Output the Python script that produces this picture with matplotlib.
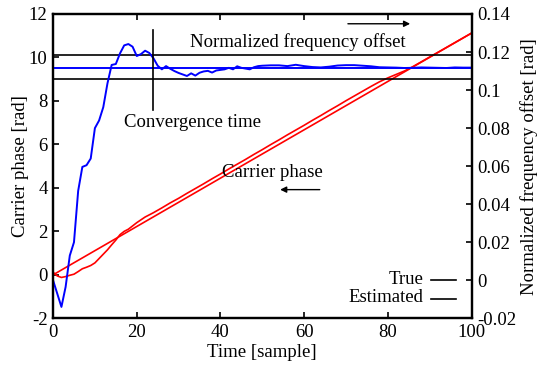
import matplotlib
matplotlib.use("Agg")
import matplotlib.pyplot as plt

plt.rcParams['font.family'] = ['Liberation Serif', 'DejaVu Serif']
plt.rcParams['mathtext.fontset'] = 'stix'
plt.rcParams['axes.unicode_minus'] = False

# ---- data ----
freq_n = [0, 1, 2, 3, 4, 5, 6, 7, 8, 9, 10, 11, 12, 13, 14, 15, 16, 17, 18, 19,
          20, 21, 22, 23, 24, 25, 26, 27, 28, 29, 30, 31, 32, 33, 34, 35, 36, 37, 38, 39,
          40, 41, 42, 43, 44, 45, 46, 47, 48, 49, 50, 52, 54, 56, 58, 60, 62, 64, 66, 68,
          70, 72, 74, 76, 78, 80, 82, 84, 86, 88, 90, 92, 94, 96, 98, 100]
freq_est = [0.0, -0.007, -0.014, -0.0035, 0.013, 0.020, 0.047, 0.0596, 0.0605, 0.064, 0.080,
            0.084, 0.091, 0.1035, 0.1132, 0.1137, 0.1193, 0.1235, 0.1242, 0.1228,
            0.1179, 0.1189, 0.1207, 0.1195, 0.1167, 0.1128, 0.1109, 0.1126, 0.1112, 0.1100,
            0.1090, 0.1082, 0.1074, 0.1088, 0.1076, 0.1091, 0.1098, 0.1101, 0.1092, 0.1103,
            0.1106, 0.1109, 0.1117, 0.1109, 0.1125, 0.1117, 0.1113, 0.1109, 0.1120, 0.1126,
            0.1128, 0.1130, 0.1130, 0.1126, 0.1133, 0.1126, 0.1121, 0.1119, 0.1123, 0.1129,
            0.1131, 0.1131, 0.1128, 0.1125, 0.1120, 0.1119, 0.1118, 0.1116, 0.1117, 0.1119,
            0.1118, 0.1117, 0.1116, 0.1119, 0.1118, 0.1118]
freq_true = 0.1118
freq_upper = 0.1185
freq_lower = 0.1057
conv_time = 24
conv_span = [0.0895, 0.1316]

phase_true_n = [0, 100]
phase_true = [0.0, 11.12]
phase_est_n = [0, 1, 2, 3, 4, 5, 6, 7, 8, 9, 10, 11, 12, 13, 14, 15, 16, 17, 18,
               20, 22, 24, 26, 28, 30, 32, 34, 36, 38, 40, 42, 44, 46, 48, 50, 52, 54,
               56, 58, 60, 62, 64, 66, 68, 70, 72, 74, 76, 78, 80, 82, 84, 86, 88, 90,
               92, 94, 96, 98, 100]
phase_est = [0.12, -0.05, -0.12, -0.08, -0.02, 0.03, 0.15, 0.28, 0.35, 0.43, 0.55, 0.75,
             0.95, 1.15, 1.38, 1.60, 1.85, 2.00, 2.10, 2.40, 2.66, 2.86, 3.08, 3.31,
             3.52, 3.75, 3.97, 4.19, 4.42, 4.64, 4.87, 5.09, 5.31, 5.54, 5.76, 5.99,
             6.21, 6.44, 6.66, 6.88, 7.11, 7.33, 7.56, 7.78, 8.01, 8.23, 8.45, 8.67,
             8.88, 9.06, 9.22, 9.38, 9.58, 9.80, 10.02, 10.24, 10.46, 10.68, 10.90, 11.12]

fs = 13.5
fig = plt.figure(figsize=(5.47, 3.68), dpi=100)
ax = fig.add_axes([0.097, 0.135, 0.765, 0.827])
ax2 = ax.twinx()

# phase (left axis)
ax.plot(phase_true_n, phase_true, color='#ff0000', lw=1.2)
ax.plot(phase_est_n, phase_est, color='#ff0000', lw=1.2)
ax.set_xlim(0, 100)
ax.set_ylim(-2, 12)
ax.set_xticks([0, 20, 40, 60, 80, 100])
ax.set_yticks([-2, 0, 2, 4, 6, 8, 10, 12])

# frequency (right axis)
ax2.axhline(freq_upper, color='black', lw=1.2)
ax2.axhline(freq_lower, color='black', lw=1.2)
ax2.plot(freq_n, freq_est, color='#0000ff', lw=1.4)
ax2.axhline(freq_true, color='#0000ff', lw=1.4)
ax2.plot([conv_time, conv_time], conv_span, color='black', lw=1.2)
ax2.set_ylim(-0.02, 0.14)
ax2.set_yticks([-0.02, 0, 0.02, 0.04, 0.06, 0.08, 0.1, 0.12, 0.14])
ax2.set_yticklabels(['-0.02', '0', '0.02', '0.04', '0.06', '0.08', '0.1', '0.12', '0.14'])

for a in (ax, ax2):
    for s in a.spines.values():
        s.set_linewidth(1.6)
ax.tick_params(direction='in', length=4, width=1.2, labelsize=fs, top=True, pad=4)
ax2.tick_params(direction='in', length=4, width=1.2, labelsize=fs, pad=4)

ax.set_xlabel('Time [sample]', fontsize=fs, labelpad=2)
ax.set_ylabel('Carrier phase [rad]', fontsize=fs, labelpad=0)
ax2.set_ylabel('Normalized frequency offset [rad]', fontsize=fs, labelpad=3)

# annotations (left-axis data coordinates)
ax.text(32.8, 10.7, 'Normalized frequency offset', fontsize=fs, ha='left', va='center')
ax.annotate('', xy=(86.0, 11.55), xytext=(69.8, 11.55),
            arrowprops=dict(arrowstyle='-|>', color='black', lw=1.0, mutation_scale=9))
ax.text(17.0, 7.0, 'Convergence time', fontsize=fs, ha='left', va='center')
ax.text(40.4, 4.7, 'Carrier phase', fontsize=fs, ha='left', va='center')
ax.annotate('', xy=(53.6, 3.92), xytext=(64.4, 3.92),
            arrowprops=dict(arrowstyle='-|>', color='black', lw=1.0, mutation_scale=9))

# legend-like labels
ax.text(88.5, -0.2, 'True', fontsize=fs, ha='right', va='center')
ax.plot([90.2, 96.2], [-0.25, -0.25], color='black', lw=1.2)
ax.text(88.5, -1.05, 'Estimated', fontsize=fs, ha='right', va='center')
ax.plot([90.2, 96.2], [-1.1, -1.1], color='black', lw=1.2)

fig.savefig('out.png', dpi=100)
